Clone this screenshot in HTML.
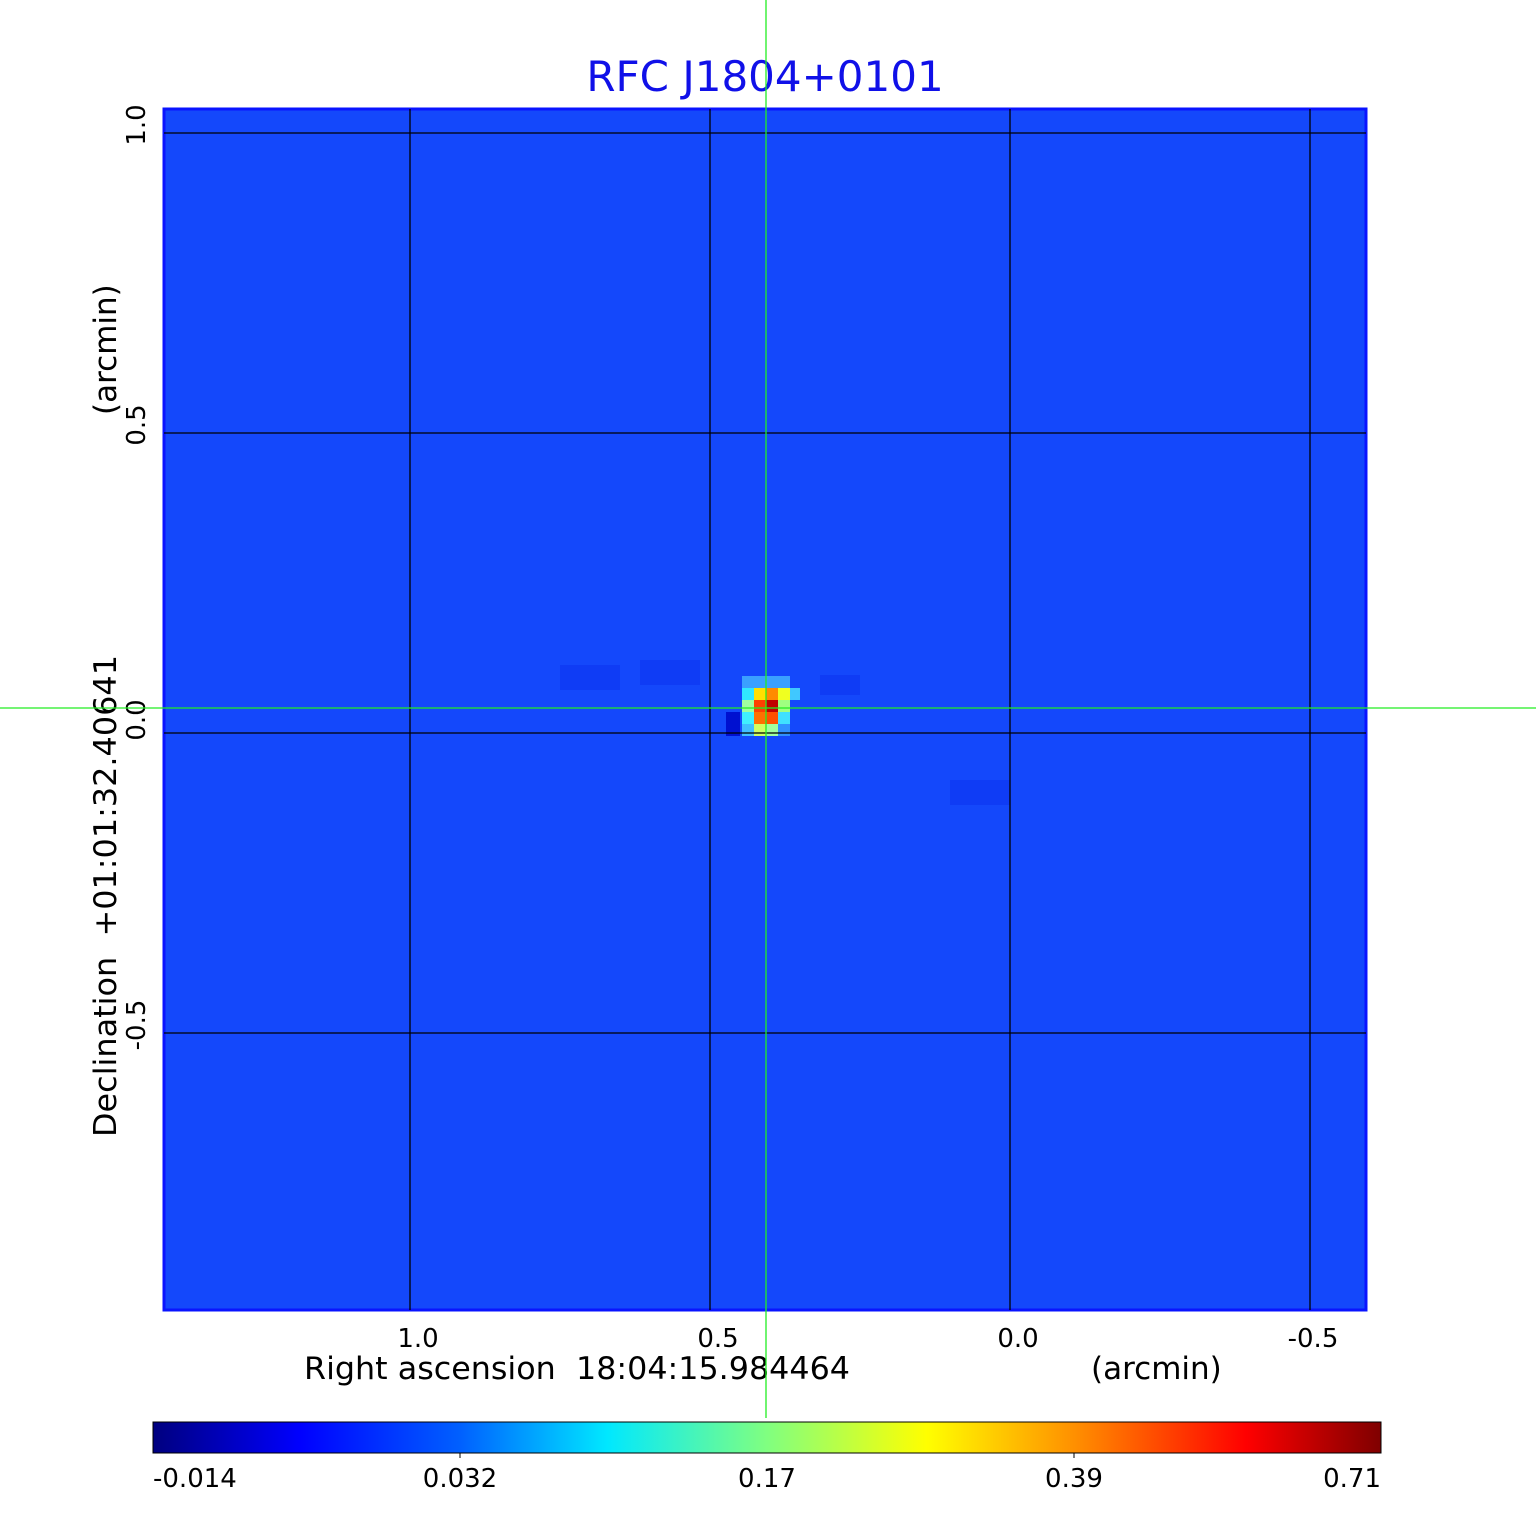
<!DOCTYPE html>
<html><head><meta charset="utf-8"><style>
html,body{margin:0;padding:0;background:#fff;}
svg text{font-family:"DejaVu Sans","Liberation Sans",sans-serif;white-space:pre;}
</style></head><body>
<svg width="1536" height="1511" viewBox="0 0 1536 1511" xmlns="http://www.w3.org/2000/svg" xml:space="preserve">
<defs>
<linearGradient id="jet" x1="0" x2="1" y1="0" y2="0">
<stop offset="0" stop-color="#00007f"/>
<stop offset="0.12" stop-color="#0000ff"/>
<stop offset="0.25" stop-color="#0060ff"/>
<stop offset="0.37" stop-color="#00e8ff"/>
<stop offset="0.5" stop-color="#80ff80"/>
<stop offset="0.63" stop-color="#ffff00"/>
<stop offset="0.75" stop-color="#ff9000"/>
<stop offset="0.89" stop-color="#ff0000"/>
<stop offset="1" stop-color="#7f0000"/>
</linearGradient>
</defs>
<text x="765" y="91" font-size="42" fill="#1010e8" text-anchor="middle">RFC J1804+0101</text>
<rect x="164" y="109" width="1202" height="1201" fill="#1448fb" stroke="#0a14ff" stroke-width="3"/>
<g opacity="0.5">
<rect x="560" y="665" width="60" height="25" fill="#0a30f0"/>
<rect x="640" y="660" width="60" height="25" fill="#0a30f0"/>
<rect x="820" y="675" width="40" height="20" fill="#0a30f0"/>
<rect x="950" y="780" width="60" height="25" fill="#0a30f0"/>
</g>
<rect x="742" y="676" width="48" height="12" fill="#3aa0ff"/>
<rect x="742" y="688" width="12" height="12" fill="#30e8ff"/>
<rect x="754" y="688" width="12" height="12" fill="#ffe000"/>
<rect x="766" y="688" width="12" height="12" fill="#ff8a00"/>
<rect x="778" y="688" width="12" height="12" fill="#f0ff20"/>
<rect x="790" y="688" width="10" height="12" fill="#40c8ff"/>
<rect x="742" y="700" width="12" height="12" fill="#a0ffa0"/>
<rect x="754" y="700" width="12" height="12" fill="#ff4000"/>
<rect x="766" y="700" width="12" height="12" fill="#c00000"/>
<rect x="778" y="700" width="12" height="12" fill="#a0ff80"/>
<rect x="742" y="712" width="12" height="12" fill="#40f0ff"/>
<rect x="754" y="712" width="12" height="12" fill="#ff7000"/>
<rect x="766" y="712" width="12" height="12" fill="#ff5000"/>
<rect x="778" y="712" width="12" height="12" fill="#40e0ff"/>
<rect x="742" y="724" width="12" height="12" fill="#40c0ff"/>
<rect x="754" y="724" width="12" height="12" fill="#d0ff60"/>
<rect x="766" y="724" width="12" height="12" fill="#a0ffa0"/>
<rect x="778" y="724" width="12" height="12" fill="#3090ff"/>
<rect x="726" y="712" width="14" height="24" fill="#0010d0"/>
<g stroke="#000" stroke-width="1.3">
<line x1="410" y1="109" x2="410" y2="1310"/>
<line x1="710" y1="109" x2="710" y2="1310"/>
<line x1="1010" y1="109" x2="1010" y2="1310"/>
<line x1="1310" y1="109" x2="1310" y2="1310"/>
<line x1="164" y1="133" x2="1366" y2="133"/>
<line x1="164" y1="433" x2="1366" y2="433"/>
<line x1="164" y1="733" x2="1366" y2="733"/>
<line x1="164" y1="1033" x2="1366" y2="1033"/>
</g>
<g font-size="26" fill="#000" text-anchor="middle">
<text x="418" y="1347">1.0</text>
<text x="718" y="1347">0.5</text>
<text x="1018" y="1347">0.0</text>
<text x="1313" y="1347">-0.5</text>
<text transform="translate(145,125) rotate(-90)">1.0</text>
<text transform="translate(145,425) rotate(-90)">0.5</text>
<text transform="translate(145,720) rotate(-90)">0.0</text>
<text transform="translate(145,1025) rotate(-90)">-0.5</text>
</g>
<g font-size="31" fill="#000">
<text x="304" y="1379" textLength="546" lengthAdjust="spacingAndGlyphs">Right ascension  18:04:15.984464</text>
<text x="1091" y="1379">(arcmin)</text>
<text transform="translate(116,1137) rotate(-90)" textLength="482" lengthAdjust="spacingAndGlyphs">Declination  +01:01:32.40641</text>
<text transform="translate(116,415) rotate(-90)">(arcmin)</text>
</g>
<g stroke="#22ee22" stroke-width="1.3">
<line x1="766" y1="0" x2="766" y2="1418"/>
<line x1="0" y1="708" x2="1536" y2="708"/>
</g>
<rect x="153" y="1422" width="1228" height="31" fill="url(#jet)" stroke="#000" stroke-width="1"/>
<g stroke="#000"><line x1="460" y1="1453" x2="460" y2="1458"/><line x1="1074" y1="1453" x2="1074" y2="1458"/></g>
<g font-size="26" fill="#000">
<text x="153" y="1487">-0.014</text>
<text x="460" y="1487" text-anchor="middle">0.032</text>
<text x="767" y="1487" text-anchor="middle">0.17</text>
<text x="1074" y="1487" text-anchor="middle">0.39</text>
<text x="1381" y="1487" text-anchor="end">0.71</text>
</g>
</svg>
</body></html>
